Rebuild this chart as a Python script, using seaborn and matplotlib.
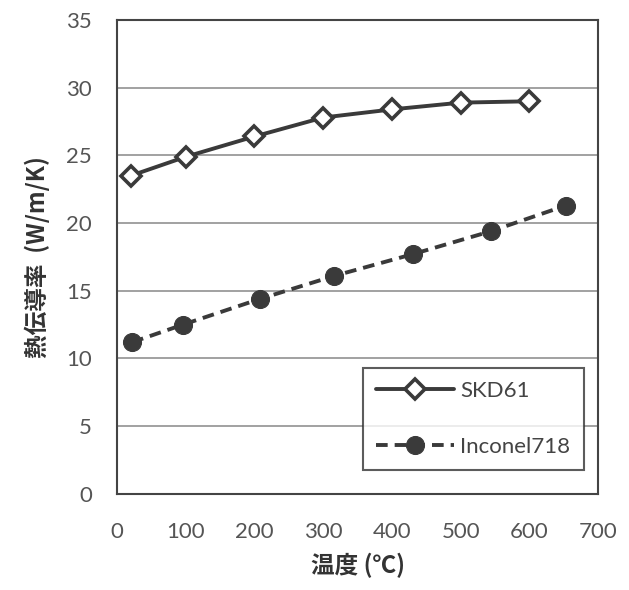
import matplotlib
matplotlib.use("Agg")
import matplotlib.pyplot as plt
from matplotlib.ticker import MultipleLocator
import pandas as pd
import seaborn as sns

# Values
skd61_temp = [20, 100, 200, 300, 400, 500, 600]
skd61_k = [23.5, 24.9, 26.4, 27.8, 28.4, 28.9, 29.0]
inconel_temp = [22, 96, 208, 316, 430, 544, 653]
inconel_k = [11.2, 12.5, 14.4, 16.1, 17.7, 19.4, 21.3]

skd = pd.DataFrame({"temp": skd61_temp, "k": skd61_k})
inc = pd.DataFrame({"temp": inconel_temp, "k": inconel_k})

sns.set_style("white")
plt.rcParams["font.family"] = ["Lato", "Noto Sans CJK JP", "DejaVu Sans"]

line_col = "#3a3a3a"
fig = plt.figure(figsize=(6.29, 5.9), dpi=100)
ax = fig.add_axes([0.186, 0.163, 0.765, 0.803])

sns.lineplot(data=skd, x="temp", y="k", ax=ax, color=line_col, lw=2.8,
             marker="D", markersize=10, markerfacecolor="white",
             markeredgecolor=line_col, markeredgewidth=2.6, label="SKD61")
sns.lineplot(data=inc, x="temp", y="k", ax=ax, color=line_col, lw=2.8,
             linestyle=(0, (3, 1.8)), marker="o", markersize=13,
             markerfacecolor=line_col, markeredgecolor=line_col,
             label="Inconel718")

ax.set_xlim(0, 700)
ax.set_ylim(0, 35)
ax.xaxis.set_major_locator(MultipleLocator(100))
ax.xaxis.set_minor_locator(MultipleLocator(50))
ax.yaxis.set_major_locator(MultipleLocator(5))
ax.yaxis.set_minor_locator(MultipleLocator(1))
ax.yaxis.grid(True, color="#9a9a9a", lw=1.3)
ax.set_axisbelow(True)

for s in ax.spines.values():
    s.set_color("#444444")
    s.set_linewidth(1.5)

ax.tick_params(axis="both", which="both", direction="in", colors="#444444",
               labelcolor="#555555", labelsize=16)
ax.tick_params(axis="y", which="major", length=0, pad=18)
ax.tick_params(axis="y", which="minor", length=6, width=1.2)
ax.tick_params(axis="x", which="both", length=7, width=1.2, pad=20)

ax.set_xlabel("温度 (℃)", fontsize=17, fontweight="bold", color="#333333",
              labelpad=8, family=["Noto Sans CJK JP", "DejaVu Sans"])
ax.set_ylabel("熱伝導率  (W/m/K)", fontsize=17, fontweight="bold",
              color="#333333", labelpad=12,
              family=["Noto Sans CJK JP", "DejaVu Sans"])

leg = ax.legend(loc="lower right", bbox_to_anchor=(0.97, 0.05),
                borderaxespad=0, fontsize=16, frameon=True, fancybox=False,
                borderpad=0.6, labelspacing=1.6, handlelength=3.5,
                handletextpad=0.3, edgecolor="#333333")
leg.get_frame().set_linewidth(1.5)
for t in leg.get_texts():
    t.set_color("#444444")

fig.savefig("out.png", dpi=100, facecolor="white")
